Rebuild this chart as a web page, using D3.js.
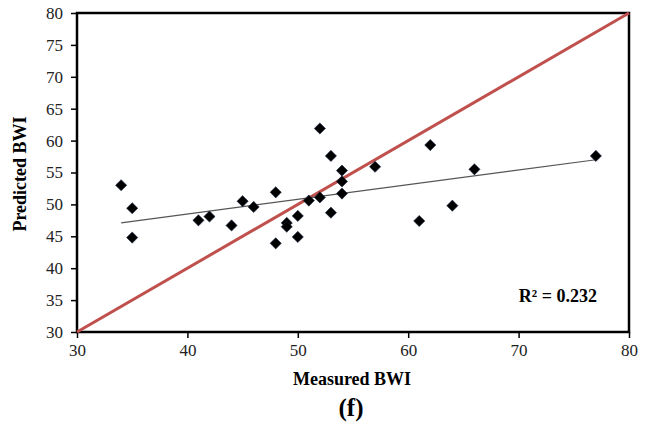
<!DOCTYPE html>
<html><head><meta charset="utf-8">
<script src="https://cdn.jsdelivr.net/npm/d3@7"></script>
<style>body{margin:0;background:#fff}</style>
</head><body>
<svg id="c" width="653" height="428"></svg>
<script>
const measured = [34,35,35,41,42,44,45,46,48,48,49,49,50,50,51,52,52,53,53,54,54,54,57,61,62,64,66,77];
const predicted = [53.0,49.4,44.8,47.5,48.1,46.7,50.5,49.6,51.9,43.9,47.1,46.5,48.2,44.9,50.6,51.1,61.9,57.6,48.7,55.3,53.6,51.7,55.9,47.4,59.3,49.8,55.5,57.6];
const trendX = [34,77];
const trendY = [47.1,57.0];
const xTicks = [30,40,50,60,70,80];
const yTicks = [30,35,40,45,50,55,60,65,70,75,80];
const r2Label = "R² = 0.232";

const svg = d3.select("#c");
const L=77,R=629,T=13,B=332;
const x = d3.scaleLinear().domain([30,80]).range([L,R]);
const y = d3.scaleLinear().domain([30,80]).range([B,T]);
const font = "'Liberation Serif','Times New Roman',serif";

// axes
const ya = svg.append("g").attr("transform",`translate(${L},0)`)
  .call(d3.axisLeft(y).tickValues(yTicks).tickSize(6).tickPadding(8).tickFormat(d3.format("d")));
const xa = svg.append("g").attr("transform",`translate(0,${B})`)
  .call(d3.axisBottom(x).tickValues(xTicks).tickSize(6).tickPadding(6).tickFormat(d3.format("d")));
[ya,xa].forEach(g=>{
  g.select(".domain").remove();
  g.selectAll("line").attr("stroke","#000").attr("stroke-width",1.5);
  g.selectAll("text").attr("font-family",font).attr("font-size",17).attr("fill","#222");
});

// frame
svg.append("rect").attr("x",L).attr("y",T).attr("width",R-L).attr("height",B-T)
  .attr("fill","none").attr("stroke","#000").attr("stroke-width",2.5);

// 1:1 line
svg.append("line").attr("x1",x(30)).attr("y1",y(30)).attr("x2",x(80)).attr("y2",y(80))
  .attr("stroke","#c0504d").attr("stroke-width",3);

// trend line
svg.append("line").attr("x1",x(trendX[0])).attr("y1",y(trendY[0])).attr("x2",x(trendX[1])).attr("y2",y(trendY[1]))
  .attr("stroke","#555").attr("stroke-width",1.2);

// diamonds
const s=5.6;
svg.append("g").selectAll("path").data(measured).join("path")
  .attr("d",(d,i)=>{const cx=x(d),cy=y(predicted[i]);return `M${cx},${cy-s}L${cx+s},${cy}L${cx},${cy+s}L${cx-s},${cy}Z`;})
  .attr("fill","#000").attr("stroke","#1b2a44").attr("stroke-width",0.6);

// labels
svg.append("text").attr("x",597).attr("y",302).attr("text-anchor","end")
  .attr("font-family",font).attr("font-weight","bold").attr("font-size",18).text(r2Label);
svg.append("text").attr("x",352).attr("y",385).attr("text-anchor","middle")
  .attr("font-family",font).attr("font-weight","bold").attr("font-size",18).text("Measured BWI");
svg.append("text").attr("transform","translate(26,174) rotate(-90)").attr("text-anchor","middle")
  .attr("font-family",font).attr("font-weight","bold").attr("font-size",18).text("Predicted BWI");
svg.append("text").attr("x",351).attr("y",416).attr("text-anchor","middle")
  .attr("font-family",font).attr("font-weight","bold").attr("font-size",25).text("(f)");
</script>
</body></html>
